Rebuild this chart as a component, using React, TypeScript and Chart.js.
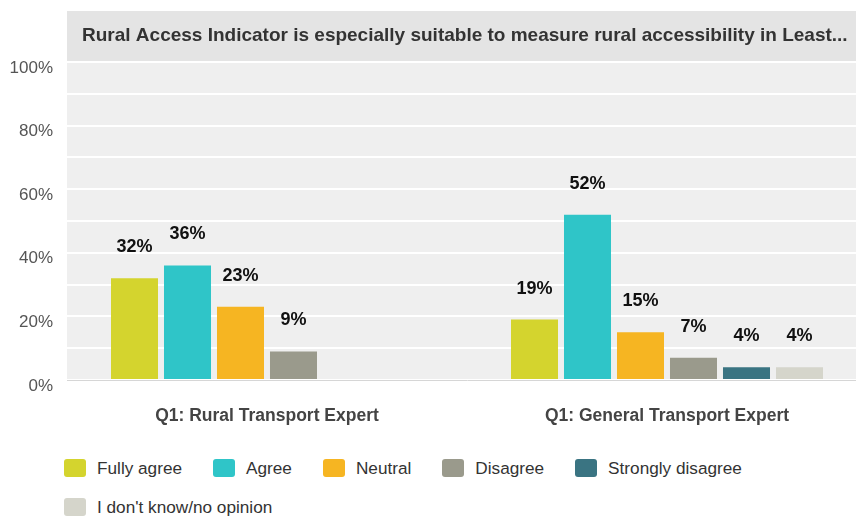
import React, { useEffect, useRef } from "react";
import { Chart, registerables } from "chart.js";

Chart.register(...registerables);

const titleText =
  "Rural Access Indicator is especially suitable to measure rural accessibility in Least...";
const categories = ["Q1: Rural Transport Expert", "Q1: General Transport Expert"];
const seriesNames = [
  "Fully agree",
  "Agree",
  "Neutral",
  "Disagree",
  "Strongly disagree",
  "I don't know/no opinion",
];
const fullyAgree = [32, 19];
const agree = [36, 52];
const neutral = [23, 15];
const disagree = [9, 7];
const stronglyDisagree = [null, 4];
const dontKnow = [null, 4];
const seriesColors = ["#d4d42e", "#2fc5c8", "#f6b522", "#9a9a8c", "#3a7482", "#d5d5cb"];
const yTicks = [0, 20, 40, 60, 80, 100];

const FONT = '"Liberation Sans", Arial, Helvetica, sans-serif';

export default function App() {
  const ref = useRef<HTMLCanvasElement | null>(null);

  useEffect(() => {
    document.body.style.margin = "0";
    document.body.style.overflow = "hidden";
    const canvas = ref.current;
    if (!canvas) return;

    const bgPlugin = {
      id: "bgPlugin",
      beforeDraw(chart: any) {
        const { ctx, chartArea } = chart;
        ctx.save();
        ctx.fillStyle = "#efefef";
        ctx.fillRect(chartArea.left, chartArea.top, chartArea.right - chartArea.left, chartArea.bottom - chartArea.top);
        ctx.fillStyle = "#e4e4e4";
        ctx.fillRect(chartArea.left, 11, chart.width - chartArea.left, chartArea.top - 11);
        ctx.fillStyle = "#333333";
        ctx.font = `bold 19px ${FONT}`;
        ctx.textBaseline = "middle";
        ctx.textAlign = "left";
        ctx.fillText(titleText, chartArea.left + 15, 36);
        ctx.restore();
      },
    };

    const valuePlugin = {
      id: "valuePlugin",
      afterDatasetsDraw(chart: any) {
        const { ctx } = chart;
        ctx.save();
        ctx.fillStyle = "#111111";
        ctx.font = `bold 18px ${FONT}`;
        ctx.textAlign = "center";
        ctx.textBaseline = "bottom";
        chart.data.datasets.forEach((ds: any, di: number) => {
          const meta = chart.getDatasetMeta(di);
          meta.data.forEach((el: any, i: number) => {
            const v = ds.data[i];
            if (v === null || v === undefined) return;
            ctx.fillText(`${v}%`, el.x, el.y - 22);
          });
        });
        ctx.restore();
      },
    };

    const values = [fullyAgree, agree, neutral, disagree, stronglyDisagree, dontKnow];

    const chart = new Chart(canvas, {
      type: "bar",
      data: {
        labels: categories,
        datasets: seriesNames.map((name, i) => ({
          label: name,
          data: values[i] as any,
          backgroundColor: seriesColors[i],
          borderWidth: 0,
          categoryPercentage: 0.795,
          barPercentage: 0.887,
        })),
      },
      options: {
        responsive: false,
        animation: false,
        layout: { padding: { top: 62, right: 0, left: 0, bottom: 0 } },
        plugins: {
          legend: { display: false },
          title: { display: false },
          tooltip: { enabled: false },
        },
        scales: {
          x: {
            grid: { display: false, drawTicks: false },
            border: { display: true, color: "#d6d6d6", width: 1 },
            ticks: {
              color: "#444444",
              font: { family: FONT, size: 17.5, weight: "bold" },
              padding: 26,
              maxRotation: 0,
            },
            afterFit(scale: any) {
              scale.height = 60;
            },
          },
          y: {
            min: 0,
            max: 100,
            grid: { color: "#ffffff", lineWidth: 2, drawTicks: false },
            border: { display: false },
            ticks: {
              stepSize: 10,
              color: "#555555",
              font: { family: FONT, size: 17 },
              padding: 14,
              labelOffset: 6,
              callback: (v: any) => (yTicks.includes(Number(v)) ? `${v}%` : ""),
            },
            afterFit(scale: any) {
              scale.width = 67;
            },
          },
        },
      },
      plugins: [bgPlugin, valuePlugin],
    });

    return () => chart.destroy();
  }, []);

  return (
    <div style={{ position: "relative", width: 867, height: 516, fontFamily: FONT }}>
      <canvas ref={ref} width={867} height={440} style={{ display: "block", width: 867, height: 440 }} />
      <div
        style={{
          position: "absolute",
          left: 64,
          top: 459,
          width: 720,
          display: "flex",
          flexWrap: "wrap",
          columnGap: 31,
          rowGap: 21,
        }}
      >
        {seriesNames.map((name, i) => (
          <div key={name} style={{ display: "flex", alignItems: "center", height: 18 }}>
            <span
              style={{
                display: "inline-block",
                width: 22,
                height: 18,
                borderRadius: 3,
                background: seriesColors[i],
                marginRight: 11,
              }}
            />
            <span style={{ fontSize: 17.2, color: "#333333", whiteSpace: "nowrap" }}>{name}</span>
          </div>
        ))}
      </div>
    </div>
  );
}
